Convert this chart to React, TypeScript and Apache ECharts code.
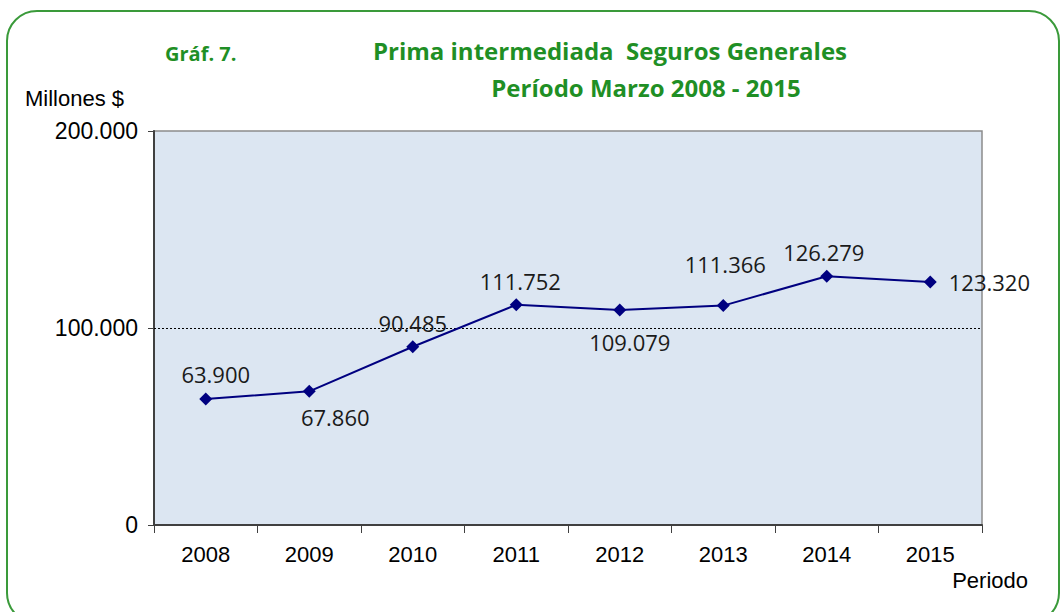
import React, { useEffect, useRef } from "react";
import * as echarts from "echarts";

const years = ["2008", "2009", "2010", "2011", "2012", "2013", "2014", "2015"];
const primaValues = [63900, 67860, 90485, 111752, 109079, 111366, 126279, 123320];
const yTicks = [0, 100000, 200000];
const referenceLine = [100000];

const fmt = (v: number) => String(Math.round(v)).replace(/\B(?=(\d{3})+(?!\d))/g, ".");

export default function App() {
  const ref = useRef<HTMLDivElement>(null);
  useEffect(() => {
    if (!ref.current) return;
    const chart = echarts.init(ref.current, undefined, { renderer: "svg" });
    const placements: any[] = [
      { position: "top", distance: 8, offset: [10, 0] },
      { position: "bottom", distance: 8, offset: [26, 0] },
      { position: "top", distance: 6, offset: [0, 0] },
      { position: "top", distance: 6, offset: [4, 0] },
      { position: "bottom", distance: 14, offset: [10, 0] },
      { position: "top", distance: 24, offset: [2, 0] },
      { position: "top", distance: 7, offset: [-3, 0] },
      { position: "right", distance: 12, offset: [0, 0] },
    ];
    const green = "#1f8f25";
    chart.setOption({
      animation: false,
      backgroundColor: "#ffffff",
      grid: {
        left: 154,
        right: 79,
        top: 131,
        bottom: 87,
        show: true,
        backgroundColor: "#dce6f2",
        borderColor: "#8c8c8c",
        borderWidth: 1.5,
      },
      graphic: [
        {
          type: "rect",
          shape: { x: 7, y: 11, width: 1052, height: 612, r: 30 },
          style: { fill: "none", stroke: "#3a9a3a", lineWidth: 2 },
          z: 0,
        },
        {
          type: "text",
          x: 165,
          y: 53,
          style: {
            text: "Gráf. 7.",
            font: "bold 20px 'Open Sans', Lato, sans-serif",
            fill: green,
            verticalAlign: "middle",
          },
        },
        {
          type: "text",
          x: 610,
          y: 50,
          style: {
            text: "Prima intermediada  Seguros Generales",
            font: "bold 24px 'Open Sans', Lato, sans-serif",
            fill: green,
            align: "center",
            verticalAlign: "middle",
          },
        },
        {
          type: "text",
          x: 646,
          y: 87,
          style: {
            text: "Período Marzo 2008 - 2015",
            font: "bold 24px 'Open Sans', Lato, sans-serif",
            fill: green,
            align: "center",
            verticalAlign: "middle",
          },
        },
        {
          type: "text",
          x: 25,
          y: 98,
          style: {
            text: "Millones $",
            font: "22px 'Liberation Sans', Arial, sans-serif",
            fill: "#000",
            verticalAlign: "middle",
          },
        },
        {
          type: "text",
          x: 1028,
          y: 580,
          style: {
            text: "Periodo",
            font: "22px 'Liberation Sans', Arial, sans-serif",
            fill: "#000",
            align: "right",
            verticalAlign: "middle",
          },
        },
      ],
      xAxis: {
        type: "category",
        data: years,
        boundaryGap: true,
        axisLine: { show: true, lineStyle: { color: "#404040", width: 2 } },
        axisTick: { show: true, alignWithLabel: false, length: 8, lineStyle: { color: "#404040", width: 1 } },
        axisLabel: {
          margin: 18,
          fontSize: 22,
          color: "#000",
          fontFamily: "'Liberation Sans', Arial, sans-serif",
        },
        splitLine: { show: false },
      },
      yAxis: {
        type: "value",
        min: yTicks[0],
        max: yTicks[yTicks.length - 1],
        interval: 100000,
        axisLine: { show: true, lineStyle: { color: "#404040", width: 2 } },
        axisTick: { show: true, length: 6, lineStyle: { color: "#404040", width: 1 } },
        axisLabel: {
          margin: 16,
          fontSize: 23,
          color: "#000",
          fontFamily: "'Liberation Sans', Arial, sans-serif",
          formatter: (v: number) => fmt(v),
        },
        splitLine: { show: false },
      },
      series: [
        {
          type: "line",
          data: primaValues.map((v, i) => ({
            value: v,
            label: placements[i],
          })),
          symbol: "diamond",
          symbolSize: 13,
          lineStyle: { color: "#000080", width: 2 },
          itemStyle: { color: "#000080" },
          label: {
            show: true,
            formatter: (p: any) => fmt(p.value),
            fontSize: 22,
            color: "#1a1a1a",
            fontFamily: "'Open Sans', 'DejaVu Sans', sans-serif",
          },
          markLine: {
            silent: true,
            symbol: "none",
            label: { show: false },
            lineStyle: { color: "#000", type: [2, 2], width: 1 },
            data: referenceLine.map((y) => ({ yAxis: y })),
            z: 1,
          },
          z: 3,
        },
      ],
    });
    return () => chart.dispose();
  }, []);
  return (
    <div
      ref={ref}
      style={{ position: "fixed", left: 0, top: 0, width: 1061, height: 612 }}
    />
  );
}
